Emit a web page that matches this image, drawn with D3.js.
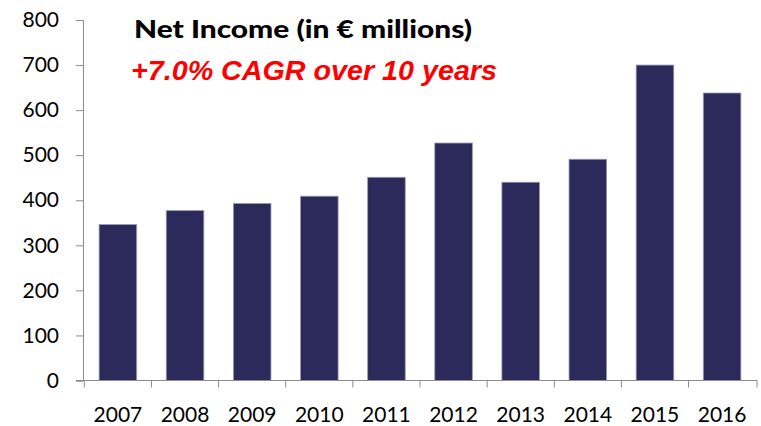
<!DOCTYPE html>
<html>
<head>
<meta charset="utf-8">
<script src="https://cdnjs.cloudflare.com/ajax/libs/d3/7.8.5/d3.min.js"></script>
<style>
  body { margin: 0; background: #fff; }
  svg text { font-family: Lato, "Open Sans", sans-serif; }
</style>
</head>
<body>
<div id="chart"></div>
<script>
// Chart data
var years = ["2007", "2008", "2009", "2010", "2011", "2012", "2013", "2014", "2015", "2016"];
var netIncome = [346, 377, 393, 409, 451, 527, 440, 491, 700, 638];
var yTicks = [0, 100, 200, 300, 400, 500, 600, 700, 800];

var width = 761, height = 426;
var margin = {top: 20, right: 4, bottom: 46, left: 83};

var svg = d3.select("#chart")
  .append("svg")
  .attr("width", width)
  .attr("height", height);

var x = d3.scaleBand()
  .domain(years)
  .range([margin.left, width - margin.right])
  .paddingInner(0.44)
  .paddingOuter(0.24);

var y = d3.scaleLinear()
  .domain([0, 800])
  .range([height - margin.bottom + 0.5, margin.top]);

// Bars
svg.selectAll(".bar")
  .data(netIncome)
  .enter()
  .append("rect")
  .attr("class", "bar")
  .attr("x", function(d, i) { return x(years[i]); })
  .attr("y", function(d) { return y(d); })
  .attr("width", x.bandwidth())
  .attr("height", function(d) { return y(0) - y(d); })
  .attr("fill", "#2b2a5b")
  .attr("stroke", "#9c9bb5")
  .attr("stroke-width", 0.8);

// Y axis
var yAxis = svg.append("g")
  .attr("transform", "translate(" + margin.left + ",0)")
  .call(d3.axisLeft(y).tickValues(yTicks).tickSize(7).tickPadding(17));
yAxis.selectAll("text")
  .attr("font-size", 21)
  .attr("fill", "#000");

// X axis with tick marks between categories
var xAxis = svg.append("g")
  .attr("transform", "translate(0," + y(0) + ")");
xAxis.append("line")
  .attr("x1", margin.left - 7)
  .attr("x2", width - margin.right)
  .attr("stroke", "#8c8c8c");
var bounds = years.map(function(d) { return x(d) - x.step() * x.paddingInner() / 2; })
  .concat([width - margin.right]);
xAxis.selectAll(".xtick")
  .data(bounds)
  .enter()
  .append("line")
  .attr("x1", function(d) { return d; })
  .attr("x2", function(d) { return d; })
  .attr("y1", 0)
  .attr("y2", 7)
  .attr("stroke", "#8c8c8c");
xAxis.selectAll(".xlabel")
  .data(years)
  .enter()
  .append("text")
  .attr("x", function(d) { return x(d) + x.bandwidth() / 2; })
  .attr("y", 41)
  .attr("text-anchor", "middle")
  .attr("font-size", 21)
  .attr("fill", "#000")
  .text(function(d) { return d; });

yAxis.select(".domain").attr("stroke", "#8c8c8c");
yAxis.selectAll(".tick line").attr("stroke", "#8c8c8c");

// Titles
svg.append("text")
  .attr("x", 134)
  .attr("y", 38)
  .attr("font-size", 25)
  .attr("font-weight", 900)
  .attr("textLength", 338)
  .attr("lengthAdjust", "spacingAndGlyphs")
  .attr("fill", "#000")
  .text("Net Income (in € millions)");

svg.append("text")
  .attr("x", 131)
  .attr("y", 80)
  .style("font-family", "'Liberation Sans', Arial, sans-serif")
  .attr("font-size", 28)
  .attr("font-weight", "bold")
  .attr("font-style", "italic")
  .attr("textLength", 366)
  .attr("lengthAdjust", "spacingAndGlyphs")
  .attr("fill", "#ff0000")
  .text("+7.0% CAGR over 10 years");
</script>
</body>
</html>
